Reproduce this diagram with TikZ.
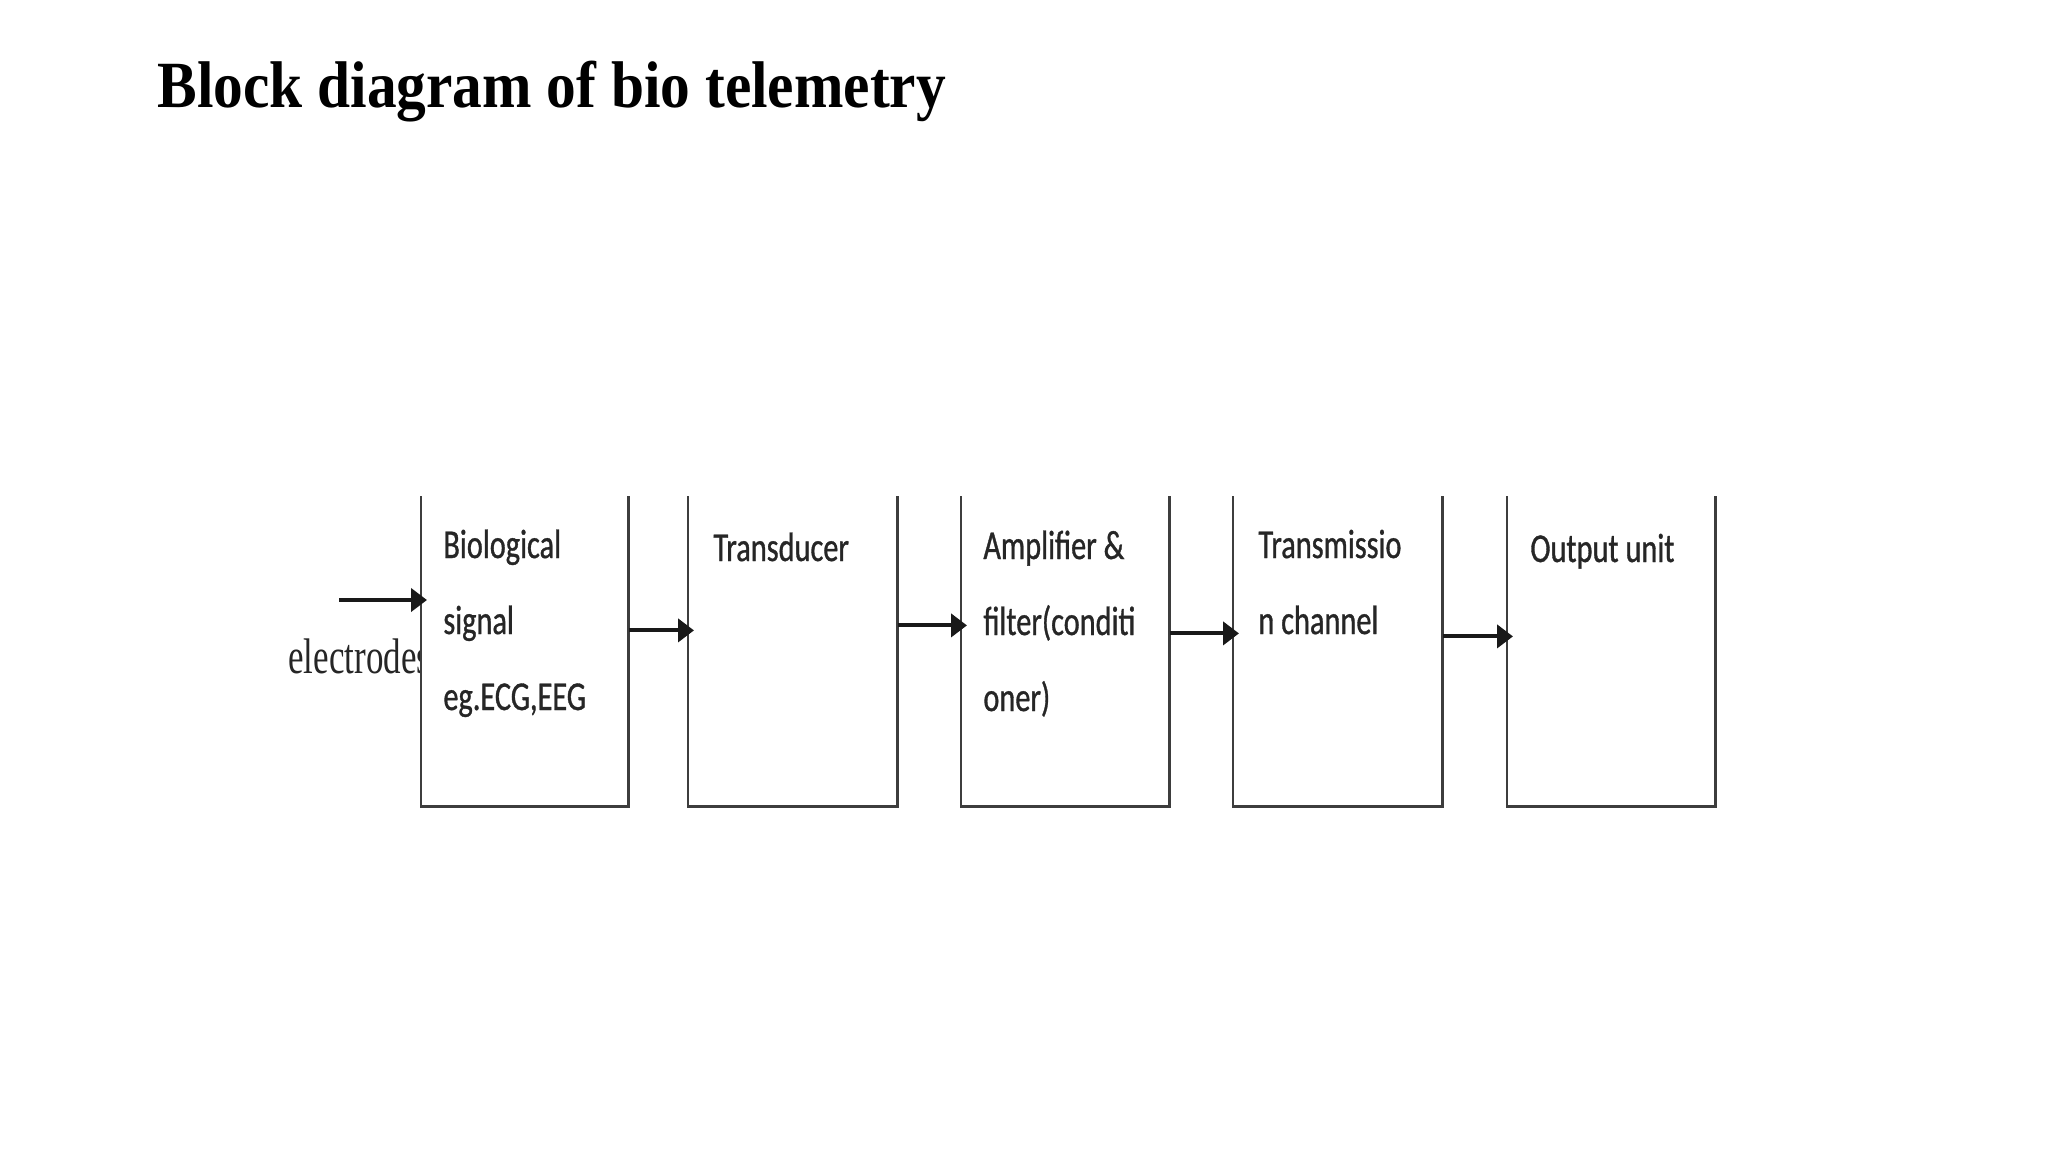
\documentclass[tikz,border=0pt]{standalone}
\usepackage{fontspec}
\setmainfont{Liberation Serif}
\newfontfamily\titlefont[FakeStretch=0.90]{Liberation Serif}
\newfontfamily\elfont[FakeStretch=0.70]{Liberation Serif}
\newfontfamily\boxfont[FakeStretch=0.74,FakeBold=0.8]{Carlito}
\usetikzlibrary{arrows.meta}
\definecolor{boxline}{HTML}{3d3d3d}
\definecolor{boxtext}{HTML}{262626}
\tikzset{
  blockbox/.style={minimum width=104pt, minimum height=155pt, inner sep=0pt, fill=white, anchor=north west},
  blockside/.style={draw=boxline, line width=1.4pt},
  blocktext/.style={anchor=base west, inner sep=0pt, text=boxtext, font=\boxfont\fontsize{20.5}{38}\selectfont},
  flowarrow/.style={draw=black!90, line width=2pt, -{Triangle[length=8pt,width=11.5pt]}, shorten >=-3pt}
}
\newcommand{\lines}[1]{\begin{tabular}[t]{@{}l@{}}#1\end{tabular}}
\begin{document}
\begin{tikzpicture}[x=0.5pt,y=-0.5pt]
\useasboundingbox[fill=white] (0,0) rectangle (2048,1152);
% title
\node[anchor=base west, inner sep=0pt, font=\titlefont\bfseries\fontsize{33}{40}\selectfont] (title) at (157,107) {Block diagram of bio telemetry};
% electrodes label (partly hidden by first box)
\node[anchor=base west, inner sep=0pt, text=boxtext, font=\elfont\fontsize{25}{30}\selectfont] (el) at (288,673) {electrodes};
\coordinate (elstart) at (339,600);
% boxes
\node[blockbox, minimum width=103.5pt] (b1) at (421,496) {};
\node[blockbox, minimum width=104.5pt] (b2) at (688,496) {};
\node[blockbox, minimum width=104pt] (b3) at (961,496) {};
\node[blockbox, minimum width=104.5pt] (b4) at (1233,496) {};
\node[blockbox, minimum width=104pt] (b5) at (1507,496) {};
\foreach \b in {b1,b2,b3,b4,b5}{
  \draw[blockside] (\b.north west) -- (\b.south west) -- (\b.south east) -- (\b.north east);
}
% texts
\node[blocktext] (t1) at (443,558) {\lines{Biological\\signal\\eg.ECG,EEG}};
\node[blocktext] (t2) at (713,561) {\lines{Transducer}};
\node[blocktext] (t3) at (983,559) {\lines{Amplifier \&\\filter(conditi\\oner)}};
\node[blocktext] (t4) at (1258,558) {\lines{Transmissio\\n channel}};
\node[blocktext] (t5) at (1530,562) {\lines{Output unit}};
% arrows
\draw[flowarrow] (elstart) -- (b1.west |- elstart);
\draw[flowarrow] ([yshift=10.5pt]b1.east) -- ([yshift=10.5pt]b2.west);
\draw[flowarrow] ([yshift=13pt]b2.east) -- ([yshift=13pt]b3.west);
\draw[flowarrow] ([yshift=9pt]b3.east) -- ([yshift=9pt]b4.west);
\draw[flowarrow] ([yshift=7.5pt]b4.east) -- ([yshift=7.5pt]b5.west);
\end{tikzpicture}
\end{document}
